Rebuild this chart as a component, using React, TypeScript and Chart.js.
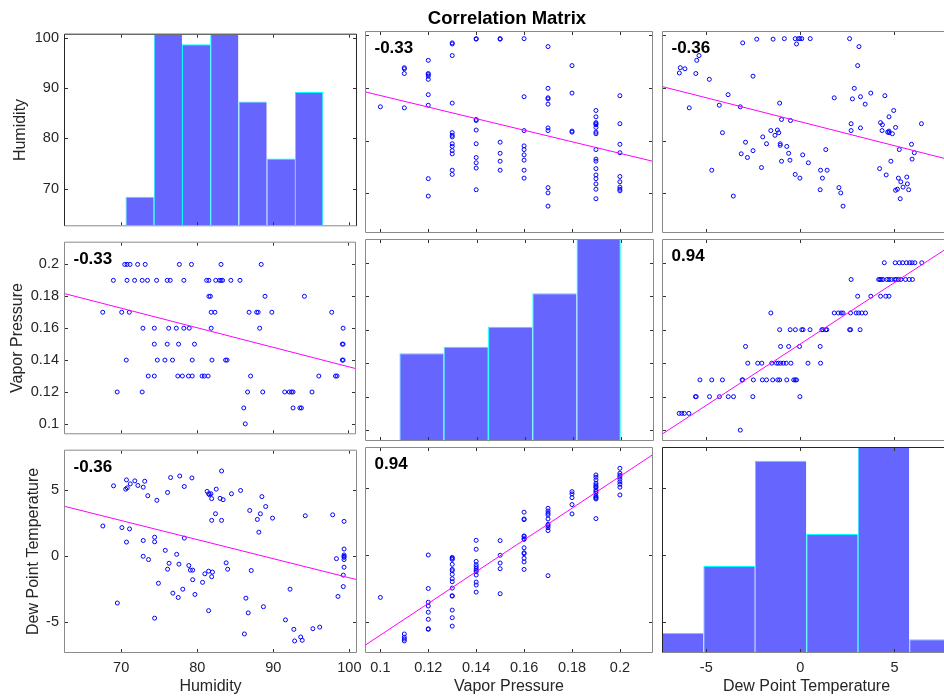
import React, { useEffect, useRef } from "react";
import { Chart, registerables } from "chart.js";

Chart.register(...registerables);

const FONT = '"Liberation Sans", Arial, Helvetica, sans-serif';
const TEXT = "#262626";

// ---------------- data ----------------
const chartTitle = "Correlation Matrix";
const variableNames = ["Humidity", "Vapor Pressure", "Dew Point Temperature"];

const humidityTicks = [70, 80, 90, 100];
const vaporTicks = [0.1, 0.12, 0.14, 0.16, 0.18, 0.2];
const dewTicks = [-5, 0, 5];

// correlation coefficients printed in the panels
const corrHumidityVapor = -0.33;
const corrHumidityDew = -0.36;
const corrVaporDew = 0.94;

// vapor pressure is recorded in steps of 0.01
const vaporLevels = [0.2, 0.19, 0.18, 0.17, 0.16, 0.15, 0.14, 0.13, 0.12, 0.11, 0.1];

const humidityAtVaporLevel = [
  [70.5, 70.8, 71.2, 72.2, 73.2, 77.7, 79.3, 83.2, 88.5],
  [69.0, 70.8, 71.8, 72.8, 73.5, 74.7, 76.1, 76.5, 78.3, 81.3, 81.6, 82.5, 83.0, 83.2, 83.4, 84.5, 85.7],
  [81.6, 81.8, 89.0, 94.2],
  [67.6, 70.1, 71.1, 81.9, 82.4, 86.9, 87.9, 88.1, 89.9, 97.8],
  [72.9, 74.4, 76.3, 77.3, 78.3, 79.0, 81.9, 88.3, 99.3],
  [74.4, 76.1, 77.6, 79.7, 99.2, 99.3],
  [70.7, 74.8, 75.8, 76.8, 79.4, 82.0, 83.8, 84.0, 99.2, 99.3],
  [73.6, 74.4, 77.5, 78.1, 78.9, 79.4, 80.7, 81.0, 81.5, 87.1, 96.1, 98.3, 98.5],
  [69.5, 72.8, 86.7, 88.7, 91.6, 92.2, 92.5, 92.7, 95.2],
  [86.2, 92.7, 93.6, 93.8],
  [86.4],
];

const dewAtVaporLevel = [
  [6.5, 6.13, 5.98, 5.85, 5.68, 5.48, 5.3, 5.08, 4.5],
  [6.0, 5.83, 5.63, 5.38, 5.25, 5.13, 5.05, 4.88, 4.75, 4.63, 4.43, 4.33, 4.26, 4.2, 2.73],
  [4.75, 4.58, 4.3, 3.78, 3.08],
  [3.5, 3.3, 3.13, 3.0, 2.7, 2.3, 2.2, 2.05, 1.83, -1.55],
  [3.21, 2.7, 2.65, 1.43, 1.38, 1.22, 1.17, 0.54, 0.17, 0.1, -0.24, -0.52, -1.08],
  [1.08, -0.02, -0.6, -1.03, -2.9],
  [1.1, 0.43, -0.48, -0.73, -0.88, -1.03, -1.15, -1.25, -1.5, -2.03, -2.25, -2.78],
  [-0.18, -0.25, -0.33, -0.7, -1.08, -1.18, -1.45, -1.78, -2.0, -2.48, -3.05, -3.08, -4.13, -4.7, -5.33],
  [0, -2.51, -3.54, -3.82, -4.29, -4.82, -5.53, -5.57],
  [-5.92, -6.16, -6.3, -6.44],
  [-3.18],
];

// [humidity, dew point]
const humidityDewPairs: [number, number][] = [
  [67.6, 2.3], [69.0, 5.35], [69.5, -3.55], [70.1, 2.18], [70.6, 5.1], [70.7, 5.8], [70.8, 5.2],
  [70.7, 1.08], [71.1, 2.08], [71.2, 5.5], [71.8, 5.73], [72.2, 5.38], [72.9, 5.25], [72.9, 1.2],
  [73.1, 5.7], [72.9, 0], [73.5, 4.6], [73.6, -0.25], [74.4, 1.45], [74.4, 1.1], [74.7, 4.25],
  [74.4, -4.7], [74.9, -2.05], [75.8, 0.45], [76.1, 4.85], [76.1, -0.98], [76.3, -0.53], [76.5, 5.98],
  [76.8, -2.8], [77.3, 0.15], [77.5, -3.13], [77.6, -0.6], [77.7, 6.1], [78.1, -2.5], [78.3, 5.3],
  [78.3, 1.38], [78.9, -0.7], [79.1, -1.05], [79.4, -1.05], [79.4, -1.78], [79.3, 5.95], [79.7, -2.9],
  [80.7, -1.98], [81.0, -1.33], [81.3, 4.93], [81.5, -1.13], [81.5, -4.13], [81.5, 4.75], [81.6, 4.68],
  [81.8, 4.75], [81.9, 4.38], [81.9, 2.73], [81.9, -1.55], [82.0, -1.2], [82.4, 3.23], [82.5, 5.1],
  [83.0, 4.4], [83.2, 2.73], [83.2, 6.48], [83.4, 4.3], [83.8, -0.5], [84.0, -0.98], [84.5, 4.75],
  [85.7, 5.0], [86.2, -5.9], [86.4, -3.18], [86.7, -4.3], [86.9, 3.48], [87.1, -1.08], [87.9, 2.8],
  [88.1, 1.83], [88.3, 3.23], [88.5, 4.53], [88.7, -3.83], [89.0, 3.78], [89.9, 2.9], [91.6, -4.83],
  [92.2, -2.5], [92.7, -5.55], [92.8, -6.43], [93.6, -6.13], [93.8, -6.38], [94.2, 3.08], [95.2, -5.5],
  [96.1, -5.38], [97.8, 3.15], [98.3, -0.18], [98.5, -3.05], [99.3, 2.65], [99.3, 0.55], [99.3, 0.1],
  [99.3, 0.0], [99.3, -0.08], [99.3, -0.25], [99.3, -0.83], [99.2, -1.43], [99.2, -2.3],
];

// histograms (bin centres and counts)
const humidityBinCenters = [72.43, 76.14, 79.85, 83.56, 87.28, 90.99, 94.7];
const humidityBinCounts = [3, 20, 19, 20, 13, 7, 14];
const vaporBinCenters = [0.1171, 0.1355, 0.154, 0.1724, 0.1908];
const vaporBinCounts = [13, 14, 17, 22, 30];
const dewBinCenters = [-6.525, -3.79, -1.055, 1.68, 4.415, 7.15];
const dewBinCounts = [3, 13.5, 30, 18.5, 32, 2];

// ---------------- derived tables ----------------
const TICKS = [humidityTicks, vaporTicks, dewTicks];
const X_LIMITS = [[62.62, 100.87], [0.094, 0.2134], [-7.3, 7.95]];
const Y_LIMITS = [[62.7, 100.56], [0.0941, 0.2136], [-7.27, 8.02]];
const HIST = [
  { centers: humidityBinCenters, counts: humidityBinCounts, max: 20 },
  { centers: vaporBinCenters, counts: vaporBinCounts, max: 30 },
  { centers: dewBinCenters, counts: dewBinCounts, max: 32 },
];

const humVapPairs: [number, number][] = vaporLevels.flatMap((v, i) =>
  humidityAtVaporLevel[i].map((h) => [h, v] as [number, number])
);
const vapDewPairs: [number, number][] = vaporLevels.flatMap((v, i) =>
  dewAtVaporLevel[i].map((d) => [v, d] as [number, number])
);

function basePairs(a: number, b: number): [number, number][] {
  if (a === 0 && b === 1) return humVapPairs;
  if (a === 0 && b === 2) return humidityDewPairs;
  return vapDewPairs;
}
function pairsFor(xVar: number, yVar: number): [number, number][] {
  if (xVar < yVar) return basePairs(xVar, yVar);
  return basePairs(yVar, xVar).map(([a, b]) => [b, a] as [number, number]);
}
function corrFor(a: number, b: number): number {
  const lo = Math.min(a, b), hi = Math.max(a, b);
  if (lo === 0 && hi === 1) return corrHumidityVapor;
  if (lo === 0 && hi === 2) return corrHumidityDew;
  return corrVaporDew;
}
function fitLine(pts: [number, number][]) {
  const n = pts.length;
  let mx = 0, my = 0;
  pts.forEach(([x, y]) => { mx += x; my += y; });
  mx /= n; my /= n;
  let sxy = 0, sxx = 0;
  pts.forEach(([x, y]) => { sxy += (x - mx) * (y - my); sxx += (x - mx) * (x - mx); });
  const slope = sxy / sxx;
  return { slope, intercept: my - slope * mx };
}
function fmt(varIdx: number, v: number): string {
  if (varIdx === 1) return String(Number(v.toFixed(2)));
  return String(Math.round(v));
}

// ---------------- layout ----------------
const COL_LEFT = [65, 362, 659];
const COL_W = 291;
const ROW_TOP = [32, 240, 448];
const ROW_H = 204;
const PAGE_H = 699;
const Y_TITLE_PAD = [11.4, 8.4, 24.4];

function geometry(row: number, col: number) {
  const padL = col === 0 ? COL_LEFT[0] : 4;
  const padR = row === 2 && col === 0 ? 14 : 4;
  const padT = 12;
  const padB = row === 2 ? PAGE_H - (ROW_TOP[2] + ROW_H) : 4;
  return {
    padL, padR, padT, padB,
    x: COL_LEFT[col] - padL,
    y: ROW_TOP[row] - padT,
    w: COL_W + padL + padR,
    h: ROW_H + padT + padB,
  };
}

function buildConfig(row: number, col: number, g: ReturnType<typeof geometry>) {
  const isDiag = row === col;
  const xVar = col, yVar = row;
  const xTicks = TICKS[xVar], yTicks = TICKS[yVar];
  const showX = row === 2, showY = col === 0;

  const scales: any = {
    x: {
      type: "linear", position: "bottom",
      min: X_LIMITS[xVar][0], max: X_LIMITS[xVar][1], offset: false,
      display: showX,
      grid: { display: false, drawTicks: false, offset: false },
      border: { display: false },
      ticks: {
        autoSkip: false, maxRotation: 0, minRotation: 0, padding: 7.3, color: TEXT,
        font: { family: FONT, size: 14.5 },
        callback: (v: number) => fmt(xVar, v),
      },
      title: {
        display: true, text: variableNames[xVar], color: TEXT,
        font: { family: FONT, size: 16 }, padding: { top: 0, bottom: 3.1 },
      },
      afterBuildTicks: (s: any) => { s.ticks = xTicks.map((v) => ({ value: v })); },
      afterFit: (s: any) => { s.height = g.padB; },
    },
    y: {
      type: "linear", position: "left",
      min: Y_LIMITS[yVar][0], max: Y_LIMITS[yVar][1],
      display: showY,
      grid: { display: false, drawTicks: false },
      border: { display: false },
      ticks: {
        autoSkip: false, padding: 6, color: TEXT,
        font: { family: FONT, size: 14.5 },
        callback: (v: number) => fmt(yVar, v),
      },
      title: {
        display: true, text: variableNames[yVar], color: TEXT,
        font: { family: FONT, size: 16 }, padding: { top: Y_TITLE_PAD[row], bottom: 0 },
      },
      afterBuildTicks: (s: any) => { s.ticks = yTicks.map((v) => ({ value: v })); },
      afterFit: (s: any) => { s.width = g.padL; },
    },
  };

  let datasets: any[];
  if (isDiag) {
    const h = HIST[row];
    const last = h.centers.length - 1;
    scales.yc = { type: "linear", axis: "y", position: "right", display: false, min: 0, max: h.max };
    datasets = [{
      type: "bar", xAxisID: "x", yAxisID: "yc",
      data: h.centers.map((c, i) => ({ x: c, y: h.counts[i] })),
      backgroundColor: "#6666ff",
      borderColor: "#00ffff",
      borderWidth: (ctx: any) => ({
        top: h.counts[ctx.dataIndex] >= h.max ? 0 : 1,
        left: 1,
        bottom: 0,
        right: ctx.dataIndex === last ? 1 : 0,
      }),
      borderSkipped: "start",
      inflateAmount: 0,
      barPercentage: 1, categoryPercentage: 1,
      clip: 0,
    }];
  } else {
    const pts = pairsFor(xVar, yVar);
    const f = fitLine(pts);
    const [x0, x1] = X_LIMITS[xVar];
    datasets = [
      {
        type: "scatter",
        data: [{ x: x0, y: f.intercept + f.slope * x0 }, { x: x1, y: f.intercept + f.slope * x1 }],
        showLine: true, borderColor: "#ff00ff", borderWidth: 1, pointRadius: 0, clip: 0,
      },
      {
        type: "scatter",
        data: pts.map(([x, y]) => ({ x, y })),
        showLine: false, pointRadius: 2, pointBorderWidth: 1,
        borderColor: "#0000ff", backgroundColor: "rgba(0,0,0,0)",
        pointBorderColor: "#0000ff", pointBackgroundColor: "rgba(0,0,0,0)",
        clip: 0,
      },
    ];
  }

  const darkTop = isDiag && row !== 1;
  const darkLeft = isDiag && row !== 1;
  const darkRight = isDiag && row === 0;
  const corrText = isDiag ? null : corrFor(xVar, yVar).toFixed(2);

  const deco = {
    id: "panelDeco" + row + col,
    afterDatasetsDraw(chart: any) {
      const { ctx, chartArea: a } = chart;
      const xs = chart.scales.x, ys = chart.scales.y;
      const TL = 3;
      ctx.save();
      ctx.lineWidth = 1;
      ctx.strokeStyle = "#333333";
      ctx.beginPath();
      xTicks.forEach((v) => {
        const px = Math.round(xs.getPixelForValue(v)) + 0.5;
        if (px < a.left || px > a.right) return;
        ctx.moveTo(px, a.bottom); ctx.lineTo(px, a.bottom - TL);
        ctx.moveTo(px, a.top); ctx.lineTo(px, a.top + TL);
      });
      yTicks.forEach((v) => {
        const py = Math.round(ys.getPixelForValue(v)) + 0.5;
        if (py < a.top || py > a.bottom) return;
        ctx.moveTo(a.left, py); ctx.lineTo(a.left + TL, py);
        ctx.moveTo(a.right, py); ctx.lineTo(a.right - TL, py);
      });
      ctx.stroke();

      const grey = "#8a8a8a", dark = "#262626";
      const L = a.left - 0.5, R = a.right + 0.5, T = a.top - 0.5, B = a.bottom + 0.5;
      const edge = (x1: number, y1: number, x2: number, y2: number, c: string) => {
        ctx.strokeStyle = c; ctx.beginPath(); ctx.moveTo(x1, y1); ctx.lineTo(x2, y2); ctx.stroke();
      };
      edge(L, B, R, B, grey);
      edge(R, T, R, B, darkRight ? dark : grey);
      edge(L, T, L, B, darkLeft ? dark : grey);
      edge(L, T, R, T, darkTop ? dark : grey);

      if (corrText) {
        ctx.fillStyle = "#000000";
        ctx.font = `bold 17px ${FONT}`;
        ctx.textAlign = "left";
        ctx.textBaseline = "middle";
        ctx.fillText(corrText, a.left + 8.5, a.top + 16.5);
      }
      ctx.restore();
    },
  };

  return {
    type: isDiag ? "bar" : "scatter",
    data: { datasets },
    options: {
      animation: false,
      responsive: false,
      maintainAspectRatio: false,
      events: [],
      layout: {
        padding: {
          left: showY ? 0 : g.padL,
          right: g.padR,
          top: g.padT,
          bottom: showX ? 0 : g.padB,
        },
      },
      plugins: { legend: { display: false }, tooltip: { enabled: false }, title: { display: false } },
      scales,
    },
    plugins: [deco],
  };
}

function Panel({ row, col }: { row: number; col: number }) {
  const ref = useRef<HTMLCanvasElement>(null);
  const g = geometry(row, col);
  useEffect(() => {
    const canvas = ref.current;
    if (!canvas) return;
    const chart = new Chart(canvas, buildConfig(row, col, g) as any);
    return () => chart.destroy();
  }, [row, col]);
  return (
    <canvas
      ref={ref}
      width={g.w}
      height={g.h}
      style={{ position: "absolute", left: g.x, top: g.y, width: g.w, height: g.h }}
    />
  );
}

export default function App() {
  const cells: { row: number; col: number }[] = [];
  for (let r = 0; r < 3; r++) for (let c = 0; c < 3; c++) cells.push({ row: r, col: c });
  return (
    <div
      style={{
        position: "fixed", left: 0, top: 0, width: 944, height: 699,
        overflow: "hidden", background: "#ffffff",
      }}
    >
      {cells.map(({ row, col }) => (
        <Panel key={`${row}-${col}`} row={row} col={col} />
      ))}
      <div
        style={{
          position: "absolute", left: 357, top: 7, width: 300, textAlign: "center",
          fontFamily: FONT, fontWeight: "bold", fontSize: 18.5, lineHeight: "22px", color: "#000",
        }}
      >
        {chartTitle}
      </div>
    </div>
  );
}
